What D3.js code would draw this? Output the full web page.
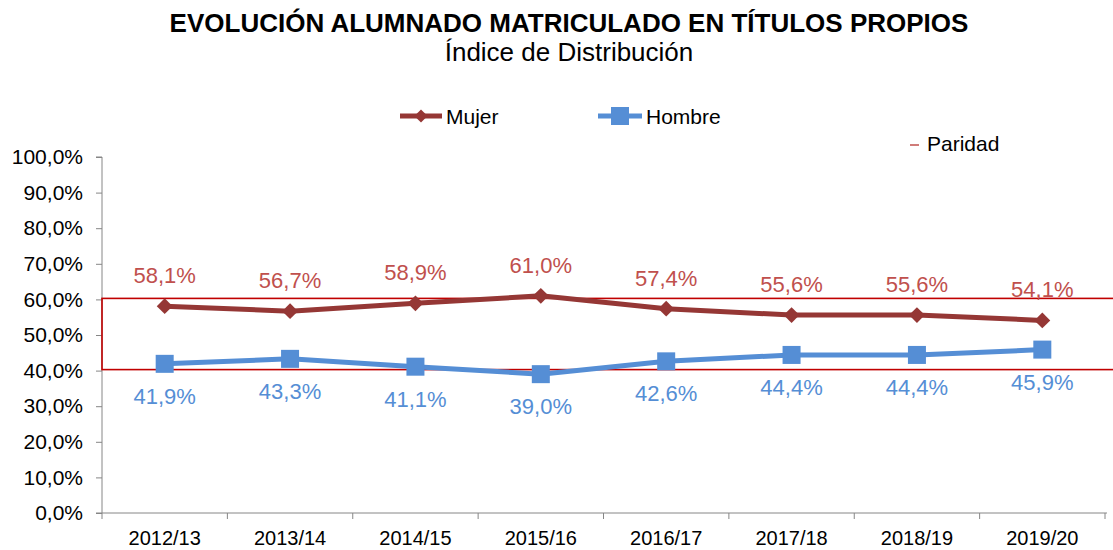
<!DOCTYPE html>
<html>
<head>
<meta charset="utf-8">
<script src="https://cdn.jsdelivr.net/npm/d3@7"></script>
<style>
  body { margin: 0; background: #fff; }
  svg { font-family: "Liberation Sans", Arial, sans-serif; }
</style>
</head>
<body>
<svg id="chart" width="1113" height="550"></svg>
<script>
var cursos = ["2012/13", "2013/14", "2014/15", "2015/16", "2016/17", "2017/18", "2018/19", "2019/20"]
var mujer = [58.1, 56.7, 58.9, 61.0, 57.4, 55.6, 55.6, 54.1]
var hombre = [41.9, 43.3, 41.1, 39.0, 42.6, 44.4, 44.4, 45.9]
var paridad = [40, 60]
var yTicks = [0, 10, 20, 30, 40, 50, 60, 70, 80, 90, 100]

var svg = d3.select("#chart")
var fmt = function(v) { return v.toFixed(1).replace(".", ",") + "%" }

var x = d3.scaleBand().domain(cursos).range([102, 1105])
var y = d3.scaleLinear().domain([0, 100]).range([513, 157])
var cx = function(d, i) { return x(cursos[i]) + x.bandwidth() / 2 }

// title
svg.append("text").attr("x", 569).attr("y", 32).attr("text-anchor", "middle")
    .attr("font-size", 26).attr("font-weight", "bold").attr("fill", "#000")
    .text("EVOLUCIÓN ALUMNADO MATRICULADO EN TÍTULOS PROPIOS")
svg.append("text").attr("x", 569).attr("y", 61).attr("text-anchor", "middle")
    .attr("font-size", 26).attr("fill", "#000")
    .text("Índice de Distribución")

// axes
var yAxis = svg.append("g").attr("transform", "translate(102,0)")
    .call(d3.axisLeft(y).tickValues(yTicks).tickSize(6).tickPadding(13).tickFormat(fmt))
yAxis.selectAll("text").attr("font-size", 21).attr("fill", "#000")
    .style("font-family", "'Liberation Sans', Arial, sans-serif")
yAxis.selectAll("line, path").attr("stroke", "#868686")
yAxis.select(".domain").attr("d", "M-6,157H0V513H-6")

var xAxis = svg.append("g").attr("transform", "translate(0,513)")
    .call(d3.axisBottom(x).tickSize(0).tickPadding(18))
xAxis.select(".domain").attr("stroke", "#868686").attr("d", "M102,0H1107")
xAxis.selectAll("text").attr("font-size", 20).attr("fill", "#000")
    .style("font-family", "'Liberation Sans', Arial, sans-serif")
xAxis.selectAll(".sep").data(cursos.concat(["end"])).enter().append("line")
    .attr("x1", function(d, i) { return 102 + i * x.bandwidth() })
    .attr("x2", function(d, i) { return 102 + i * x.bandwidth() })
    .attr("y1", 0).attr("y2", 6).attr("stroke", "#868686")

// paridad box
svg.append("rect").attr("x", 102).attr("y", y(paridad[1]) - 1)
    .attr("width", 1020).attr("height", y(paridad[0]) - y(paridad[1]))
    .attr("fill", "none").attr("stroke", "#C00000").attr("stroke-width", 1.6)

var line = d3.line().x(cx).y(function(d) { return y(d) })

// Hombre
svg.append("path").datum(hombre).attr("d", line).attr("fill", "none")
    .attr("stroke", "#558ED5").attr("stroke-width", 5)
svg.selectAll(".sq").data(hombre).enter().append("rect")
    .attr("x", function(d, i) { return cx(d, i) - 9 }).attr("y", function(d) { return y(d) - 9 })
    .attr("width", 18).attr("height", 18).attr("fill", "#558ED5")

// Mujer
svg.append("path").datum(mujer).attr("d", line).attr("fill", "none")
    .attr("stroke", "#953735").attr("stroke-width", 5)
svg.selectAll(".dm").data(mujer).enter().append("path")
    .attr("d", d3.symbol().type(d3.symbolDiamond2).size(160))
    .attr("transform", function(d, i) { return "translate(" + cx(d, i) + "," + y(d) + ")" })
    .attr("fill", "#953735")

// labels
svg.selectAll(".lm").data(mujer).enter().append("text")
    .attr("x", cx).attr("y", function(d) { return y(d) - 23 })
    .attr("text-anchor", "middle").attr("font-size", 22).attr("fill", "#C0504D")
    .text(fmt)
svg.selectAll(".lh").data(hombre).enter().append("text")
    .attr("x", cx).attr("y", function(d) { return y(d) + 40 })
    .attr("text-anchor", "middle").attr("font-size", 22).attr("fill", "#558ED5")
    .text(fmt)

// legend
var lg = svg.append("g")
lg.append("line").attr("x1", 400).attr("x2", 442).attr("y1", 116).attr("y2", 116)
    .attr("stroke", "#953735").attr("stroke-width", 5)
lg.append("path").attr("d", d3.symbol().type(d3.symbolDiamond2).size(110))
    .attr("transform", "translate(421,116)").attr("fill", "#953735")
lg.append("text").attr("x", 446).attr("y", 124).attr("font-size", 21).text("Mujer")
lg.append("line").attr("x1", 598).attr("x2", 642).attr("y1", 116).attr("y2", 116)
    .attr("stroke", "#558ED5").attr("stroke-width", 5)
lg.append("rect").attr("x", 611).attr("y", 107).attr("width", 18).attr("height", 18).attr("fill", "#558ED5")
lg.append("text").attr("x", 646).attr("y", 124).attr("font-size", 21).text("Hombre")
lg.append("line").attr("x1", 910).attr("x2", 919).attr("y1", 145).attr("y2", 145)
    .attr("stroke", "#C0504D").attr("stroke-width", 1.5)
lg.append("text").attr("x", 927).attr("y", 151).attr("font-size", 21).text("Paridad")
</script>
</body>
</html>
